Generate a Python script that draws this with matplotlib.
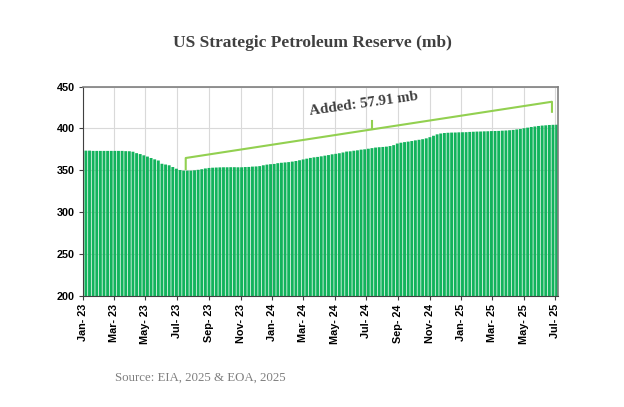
import numpy as np
import pandas as pd
import matplotlib
matplotlib.use("Agg")
import matplotlib.pyplot as plt

# Weekly SPR stocks, million barrels
stocks_2023 = [373.5, 373.5, 373.2, 373.2, 373.2, 373.2, 373.2, 373.2, 373.2, 373.2,
               373.2, 372.9, 372.8, 372.2, 370.5, 369.4, 367.9, 366.4, 364.7, 363.1,
               361.7, 357.8, 356.9, 356.0, 353.9, 351.9, 350.3, 349.6, 349.6, 349.6,
               350.0, 350.6, 351.3, 352.2, 352.8, 353.1, 353.3, 353.5, 353.6, 353.6,
               353.7, 353.7, 353.6, 353.6, 353.9, 354.0, 354.4, 354.6, 355.0, 356.0,
               356.8, 357.3]
stocks_2024 = [357.6, 358.5, 359.0, 359.4, 359.8, 360.4, 361.1, 362.0, 363.0, 363.9,
               364.8, 365.5, 366.0, 366.7, 367.5, 368.2, 369.1, 369.7, 370.4, 371.3,
               372.4, 372.7, 373.4, 373.9, 374.7, 375.1, 375.8, 376.5, 377.2, 377.6,
               377.9, 378.3, 379.0, 380.1, 382.0, 383.0, 383.7, 384.3, 385.0, 385.8,
               386.5, 387.2, 388.2, 389.6, 391.3, 393.0, 394.0, 394.6, 394.9, 395.1,
               395.2, 395.4]
stocks_2025 = [395.5, 395.6, 395.9, 396.1, 396.3, 396.4, 396.6, 396.7, 396.9, 397.0,
               397.1, 397.4, 397.6, 397.9, 398.3, 398.9, 399.4, 400.3, 401.0, 401.8,
               402.4, 403.0, 403.5, 403.8, 404.2, 404.4, 404.5]
stocks = stocks_2023 + stocks_2024 + stocks_2025
weeks = pd.date_range("2023-01-06", periods=len(stocks), freq="7D")

tick_dates = pd.date_range("2023-01-01", "2025-07-01", freq="2MS")
tick_labels = [d.strftime("%b- %y") for d in tick_dates]

title = "US Strategic Petroleum Reserve (mb)"
note = "Added: 57.91 mb"
source = "Source: EIA, 2025 & EOA, 2025"

# bracket: left end, middle, right end
br_dates = pd.to_datetime(["2023-07-18", "2024-07-13", "2025-06-25"])
br_line = [364.7, 399.0, 432.0]
br_tip = [351.6, 409.0, 420.0]


def main():
    fig = plt.figure(figsize=(6.24, 4.07), dpi=100)
    ax = fig.add_axes([0.1335, 0.2735, 0.761, 0.5135])

    bars = ax.bar(weeks, stocks, width=5.6, color="#12b35c", zorder=2)
    for b in bars:
        b.set_snap(False)

    ax.set_ylim(200, 450)
    ax.set_yticks(np.arange(200, 451, 50))
    ax.set_xlim(pd.Timestamp("2023-01-01"), pd.Timestamp("2025-07-07"))
    ax.set_xticks(tick_dates)
    ax.set_xticklabels(tick_labels, rotation=90)

    ax.grid(True, color="#d9d9d9", linewidth=0.8, zorder=0)
    ax.set_axisbelow(True)
    for side in ["top", "right"]:
        ax.spines[side].set_color("#7f7f7f")
        ax.spines[side].set_linewidth(1.2)
    for side in ["left", "bottom"]:
        ax.spines[side].set_color("#404040")
        ax.spines[side].set_linewidth(0.8)
    ax.tick_params(axis="both", length=3, width=0.8, color="#404040", pad=3)
    for lab in ax.get_xticklabels() + ax.get_yticklabels():
        lab.set_fontfamily("Liberation Sans")
        lab.set_fontweight("bold")
        lab.set_fontsize(7.8)

    # bracket
    ax.plot([br_dates[0], br_dates[0], br_dates[2], br_dates[2]],
            [br_tip[0], br_line[0], br_line[2], br_tip[2]],
            color="#92d050", linewidth=1.5, zorder=3, clip_on=False)
    ax.plot([br_dates[1], br_dates[1]], [br_line[1], br_tip[1]],
            color="#92d050", linewidth=1.5, zorder=3)
    ax.text(pd.Timestamp("2024-06-26"), 429, note, rotation=8,
            ha="center", va="center", fontsize=10.8, fontweight="bold",
            family="Liberation Serif", color="#404040", zorder=4)

    fig.text(0.5, 0.895, title, ha="center", va="center", fontsize=12.5,
             fontweight="bold", family="Liberation Serif", color="#404040")
    fig.text(0.184, 0.071, source, ha="left", va="center", fontsize=9.3,
             family="Liberation Serif", color="#7f7f7f")

    fig.savefig("out.png", dpi=100)


if __name__ == "__main__":
    main()
